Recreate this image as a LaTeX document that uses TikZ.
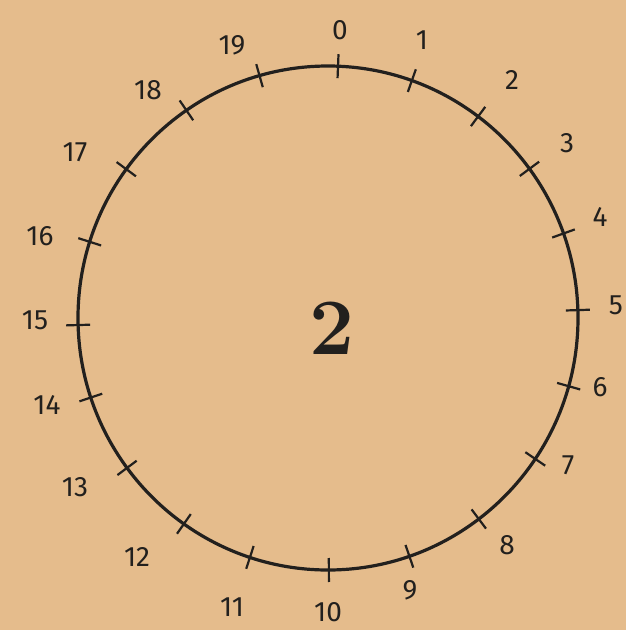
\documentclass[tikz,border=0pt]{standalone}
\usepackage{fontspec}
\setsansfont{Fira Sans}
\usetikzlibrary{calc}
\definecolor{paper}{RGB}{229,188,140}
\definecolor{ink}{RGB}{34,32,30}
\begin{document}
\begin{tikzpicture}[x=1pt,y=-1pt,
  rim/.style={draw=ink,line width=3.2pt},
  tickmark/.style={draw=ink,line width=2.2pt},
  numlabel/.style={text=ink,font=\sffamily\fontsize{28}{28}\selectfont,inner sep=0pt},
  bignum/.style={text=ink,font=\bfseries\fontsize{80}{80}\selectfont,inner sep=0pt}]
\fill[paper] (0,0) rectangle (626,630);
\useasboundingbox (0,0) rectangle (626,630);
\coordinate (c) at (328,318);
\draw[rim] (c) ellipse [x radius=250pt, y radius=252pt];
\foreach \i/\a in {0/87.7,1/70.4,2/53.1,3/36.3,4/19.6,5/1.8,6/-15.7,7/-34.0,8/-52.9,9/-71.0,10/-89.8,11/-108.2,12/-125.2,13/-143.5,14/-161.6,15/181.6,16/162.4,17/143.8,18/124.5,19/105.9}
  {\coordinate (t\i) at ($(c)+({250*cos(\a)},{-252*sin(\a)})$);
   \draw[tickmark] ($(t\i)!12pt!(c)$) -- ($(t\i)!-12pt!(c)$);}
\foreach \i/\x/\y in {0/340/30,1/422/40,2/512/80,3/567/143,4/600/217,5/616/305,6/600/387,7/568/465,8/507/545,9/410/590,10/328/612,11/232/607,12/137/557,13/75/487,14/47/405,15/35/320,16/40/236,17/75/152,18/148/90,19/232/45}
  {\node[numlabel] (l\i) at (\x,\y) {\i};}
\node[bignum] (mid) at (332,328) {2};
\end{tikzpicture}
\end{document}
